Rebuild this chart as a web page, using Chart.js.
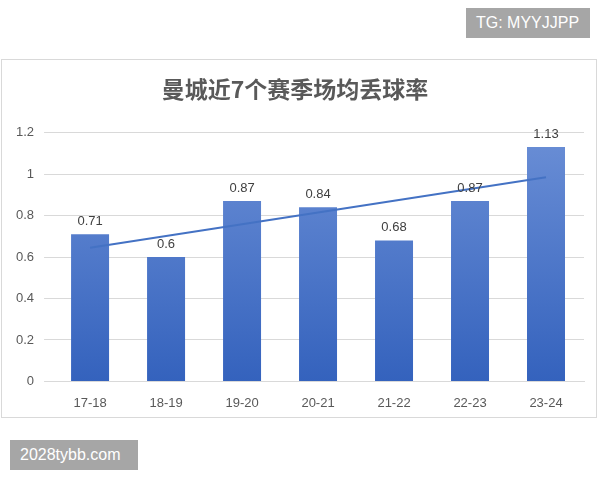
<!DOCTYPE html>
<html><head><meta charset="utf-8">
<script src="https://cdn.jsdelivr.net/npm/chart.js@4/dist/chart.umd.min.js"></script>
<style>
body{margin:0;background:#fff;width:600px;height:480px;position:relative;overflow:hidden;font-family:"Noto Sans CJK SC","Noto Sans",sans-serif}
#box{position:absolute;left:1px;top:59px;width:596px;height:359px;border:1px solid #d9d9d9;box-sizing:border-box}
.wm{position:absolute;background:#a6a6a6;color:#fff;font-size:16px;line-height:30px;padding:0 10px;font-family:"Liberation Sans",Arial,sans-serif}
</style></head>
<body>
<div id="box"><canvas id="c" width="594" height="357"></canvas></div>
<div class="wm" style="left:466px;top:8px;width:104px">TG: MYYJJPP</div>
<div class="wm" style="left:10px;top:440px;width:108px">2028tybb.com</div>
<script>
// 曼城近7个赛季场均丢球率
const seasons = ["17-18","18-19","19-20","20-21","21-22","22-23","23-24"];
const goalsAgainst = [0.71,0.6,0.87,0.84,0.68,0.87,1.13];
// 趋势线端点
const trendLine = [0.645,null,null,null,null,null,0.985];
const yTicks = [0,0.2,0.4,0.6,0.8,1,1.2];

const ctx = document.getElementById("c").getContext("2d");
const grad = ctx.createLinearGradient(0,70,0,322);
grad.addColorStop(0,"#6b8fd6");
grad.addColorStop(1,"#3462bd");

const labelPlugin = {
  id:"lbl",
  afterDatasetsDraw(chart){
    const m = chart.getDatasetMeta(1), c = chart.ctx;
    c.save(); c.fillStyle="#404040"; c.font='13px "Liberation Sans",Arial,sans-serif'; c.textAlign="center";
    m.data.forEach((b,i)=>c.fillText(String(goalsAgainst[i]), b.x, b.y-9));
    c.restore();
  }
};

new Chart(ctx,{
  data:{labels:seasons,datasets:[
    {type:"line",data:trendLine,spanGaps:true,borderColor:"#4472c4",borderWidth:2,pointRadius:0,order:0},
    {type:"bar",data:goalsAgainst,backgroundColor:grad,categoryPercentage:1,barPercentage:0.5,order:1}
  ]},
  options:{responsive:false,animation:false,
    layout:{padding:{left:4,right:12,top:0,bottom:0}},
    plugins:{legend:{display:false},tooltip:{enabled:false},
      title:{display:true,text:"曼城近7个赛季场均丢球率",color:"#595959",font:{size:23,weight:"bold",family:'"Noto Sans CJK SC"'},padding:{top:15,bottom:30}}},
    scales:{
      x:{grid:{display:false},border:{color:"#d9d9d9"},ticks:{color:"#595959",font:{size:13,family:'"Liberation Sans",Arial'},padding:6}},
      y:{min:0,max:1.2,afterBuildTicks:a=>{a.ticks=yTicks.map(v=>({value:v}));},
        grid:{color:"#d9d9d9"},border:{display:false},
        ticks:{color:"#595959",font:{size:13,family:'"Liberation Sans",Arial'},padding:10,callback:v=>String(v)}}
    }
  },
  plugins:[labelPlugin]
});
</script>
</body></html>
